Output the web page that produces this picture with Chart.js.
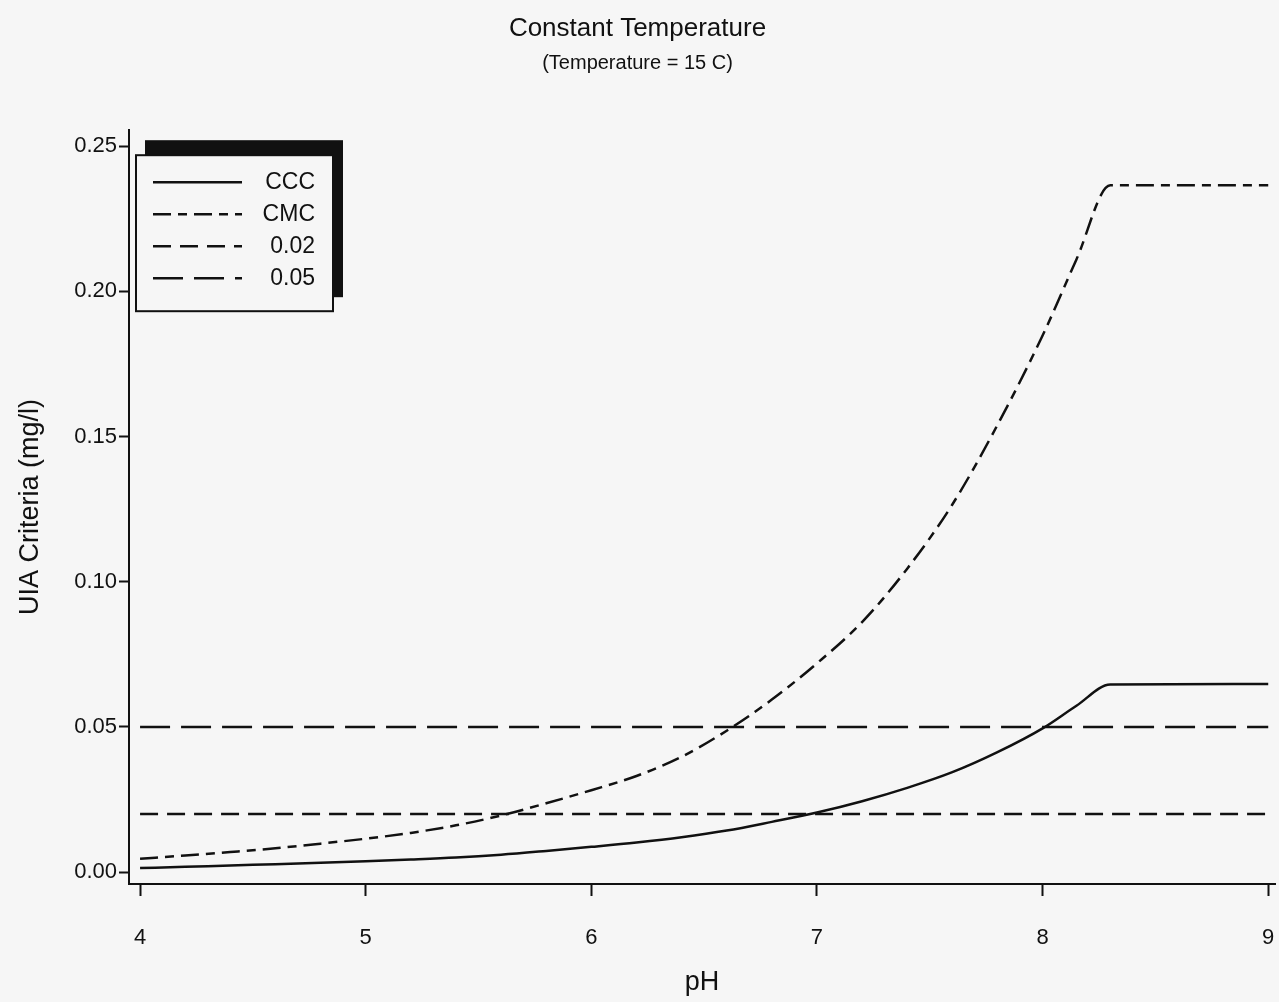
<!DOCTYPE html>
<html>
<head>
<meta charset="utf-8">
<script src="https://cdn.jsdelivr.net/npm/chart.js@4.4.1/dist/chart.umd.min.js"></script>
<style>
  html, body { margin: 0; padding: 0; background: #f6f6f6; }
  #wrap { width: 1279px; height: 1002px; }
</style>
</head>
<body>
<div id="wrap"><canvas id="uiaChart"></canvas></div>
<script>
const ph = [4.0, 4.2, 4.4, 4.6, 4.8, 5.0, 5.2, 5.4, 5.6, 5.8, 6.0, 6.2, 6.4,
            6.6, 6.8, 7.0, 7.2, 7.4, 7.6, 7.8, 8.0, 8.15, 8.3, 9.0];
const cccValues = [0.0014, 0.0018, 0.0023, 0.0027, 0.0032, 0.0037, 0.0043, 0.0050,
                   0.0060, 0.0073, 0.0087, 0.0102, 0.0120, 0.0143, 0.0173, 0.0205,
                   0.0244, 0.0290, 0.0344, 0.0413, 0.0495, 0.0573, 0.0646, 0.0648];
const cmcValues = [0.0046, 0.0057, 0.0069, 0.0082, 0.0098, 0.0115, 0.0135, 0.0161,
                   0.0195, 0.0237, 0.0282, 0.0331, 0.0397, 0.0487, 0.0594, 0.0719,
                   0.0861, 0.1045, 0.1266, 0.1540, 0.1848, 0.2110, 0.2365, 0.2365];
// the two flat reference lines
const flatPh = [4, 9];
const line002 = [0.02, 0.02];
const line005 = [0.05, 0.05];

const xTicks = [4, 5, 6, 7, 8, 9];
const yTicks = [0, 0.05, 0.10, 0.15, 0.20, 0.25];

const ink = '#111111';
const paper = '#f6f6f6';
const face = '"Liberation Sans", Arial, sans-serif';

function pts(xs, ys) {
    return xs.map((x, i) => ({ x: x, y: ys[i] }));
}

// SAS style legend: framed box in the top left corner with a heavy shadow
const boxLegend = {
    id: 'boxLegend',
    afterDraw(chart) {
        const { ctx, chartArea } = chart;
        const l = chartArea.left, t = chartArea.top;
        ctx.save();
        ctx.fillStyle = ink;
        ctx.fillRect(l + 16, t + 10, 198, 157); // shadow
        ctx.fillStyle = paper;
        ctx.fillRect(l + 7, t + 25, 197, 156);
        ctx.lineWidth = 2;
        ctx.strokeStyle = ink;
        ctx.strokeRect(l + 7, t + 25, 197, 156);

        chart.data.datasets.forEach((ds, i) => {
            const y = t + 52 + i * 32;
            ctx.beginPath();
            ctx.setLineDash(ds.borderDash || []);
            ctx.lineWidth = ds.borderWidth;
            ctx.moveTo(l + 24, y);
            ctx.lineTo(l + 113, y);
            ctx.stroke();
            ctx.setLineDash([]);
            ctx.fillStyle = ink;
            ctx.font = '23px ' + face;
            ctx.textAlign = 'right';
            ctx.textBaseline = 'middle';
            ctx.fillText(ds.label, l + 186, y);
        });
        ctx.restore();
    }
};

const common = {
    borderColor: ink,
    borderWidth: 2.5,
    pointRadius: 0,
    fill: false,
    cubicInterpolationMode: 'monotone'
};

new Chart(document.getElementById('uiaChart'), {
    type: 'line',
    data: {
        datasets: [
            { ...common, label: 'CCC', data: pts(ph, cccValues), borderDash: [] },
            { ...common, label: 'CMC', data: pts(ph, cmcValues), borderDash: [18, 7, 9, 7] },
            { ...common, label: '0.02', data: pts(flatPh, line002), borderDash: [18, 9] },
            { ...common, label: '0.05', data: pts(flatPh, line005), borderDash: [30, 11] }
        ]
    },
    options: {
        responsive: true,
        maintainAspectRatio: false,
        animation: false,
        layout: { padding: { left: 0, right: 4, top: 0, bottom: 0 } },
        plugins: {
            legend: { display: false },
            tooltip: { enabled: false },
            title: {
                display: true,
                text: 'Constant Temperature',
                color: ink,
                font: { family: face, size: 26, weight: 'normal' },
                padding: { top: 13, bottom: 3 }
            },
            subtitle: {
                display: true,
                text: '(Temperature = 15 C)',
                color: ink,
                font: { family: face, size: 20, weight: 'normal' },
                padding: { top: 4, bottom: 55 }
            }
        },
        scales: {
            x: {
                type: 'linear',
                min: 3.951,
                max: 9.03,
                afterBuildTicks: s => { s.ticks = xTicks.map(v => ({ value: v })); },
                afterFit: s => {
                    s.height = 118;
                    // the big label padding would otherwise squeeze the plot sideways
                    s.paddingLeft = 0;
                    s.paddingRight = 0;
                },
                grid: { drawOnChartArea: false, drawTicks: true, tickLength: 12, tickWidth: 2, tickColor: ink },
                border: { display: true, color: ink, width: 2 },
                ticks: {
                    color: ink,
                    font: { family: face, size: 22 },
                    padding: 29,
                    maxRotation: 0,
                    callback: v => String(v)
                },
                title: {
                    display: true,
                    text: 'pH',
                    color: ink,
                    font: { family: face, size: 27 },
                    padding: { top: 0, bottom: 3 }
                }
            },
            y: {
                type: 'linear',
                min: -0.0041,
                max: 0.2555,
                afterBuildTicks: s => { s.ticks = yTicks.map(v => ({ value: v })); },
                afterFit: s => { s.width = 129; },
                grid: { drawOnChartArea: false, drawTicks: true, tickLength: 10, tickWidth: 2, tickColor: ink },
                border: { display: true, color: ink, width: 2 },
                ticks: {
                    color: ink,
                    font: { family: face, size: 22 },
                    padding: 2,
                    callback: v => v.toFixed(2)
                },
                title: {
                    display: true,
                    text: 'UIA Criteria (mg/l)',
                    color: ink,
                    font: { family: face, size: 27 },
                    padding: { top: 14, bottom: 0 }
                }
            }
        }
    },
    plugins: [boxLegend]
});
</script>
</body>
</html>
